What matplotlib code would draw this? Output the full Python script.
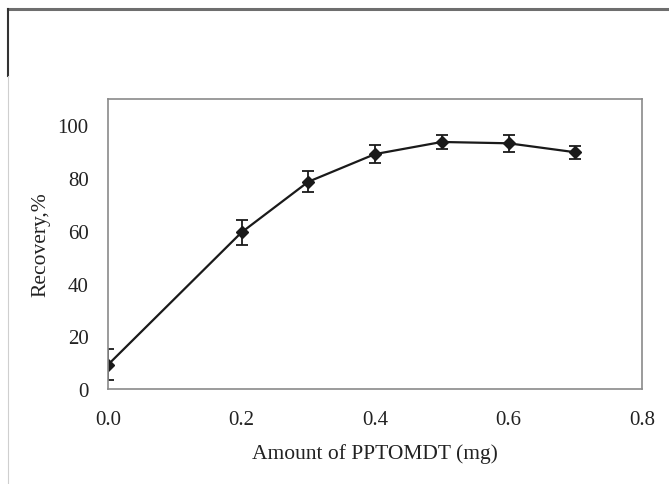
import numpy as np
import matplotlib
matplotlib.use("Agg")
import matplotlib.pyplot as plt
from matplotlib.lines import Line2D

# data
amount = [0.0, 0.2, 0.3, 0.4, 0.5, 0.6, 0.7]
recovery = [9.2, 59.4, 78.6, 89.1, 93.7, 93.2, 89.8]
err = [5.8, 4.6, 4.0, 3.4, 2.7, 3.2, 2.5]

xticks = [0.0, 0.2, 0.4, 0.6, 0.8]
yticks = [0, 20, 40, 60, 80, 100]

plt.rcParams['font.family'] = ['Liberation Serif', 'DejaVu Serif']

fig = plt.figure(figsize=(6.69, 4.85), dpi=100)
ax = fig.add_axes([108/669, 1 - 390/485, (642-108)/669, (390-100)/485])

ax.errorbar(amount, recovery, yerr=err, color='#1a1a1a', lw=1.6,
            marker='D', ms=6.5, capsize=4, elinewidth=1.3, capthick=1.3)

ax.set_xlim(0, 0.8)
ax.set_ylim(0, 110)
ax.set_xticks(xticks)
ax.set_xticklabels(['%.1f' % t for t in xticks])
ax.set_yticks(yticks)
ax.tick_params(length=0, labelsize=15, colors='#222222')
ax.tick_params(axis='x', pad=15)
ax.tick_params(axis='y', pad=14)
for s in ax.spines.values():
    s.set_color('#8a8a8a')
    s.set_linewidth(1.2)

ax.set_xlabel('Amount of PPTOMDT (mg)', fontsize=15.5, color='#222222', labelpad=10)
ax.set_ylabel('Recovery,%', fontsize=15.5, color='#222222', labelpad=5)

# outer frame fragments
fig.add_artist(Line2D([8/669, 1], [1 - 10/485, 1 - 10/485], color='#6e6e6e', lw=2.2))
fig.add_artist(Line2D([8/669, 8/669], [1 - 10/485, 1 - 77/485], color='#333333', lw=1.5))
fig.add_artist(Line2D([8/669, 8/669], [1 - 77/485, 0], color='#cfcfcf', lw=0.8))

fig.savefig('out.png', dpi=100)
